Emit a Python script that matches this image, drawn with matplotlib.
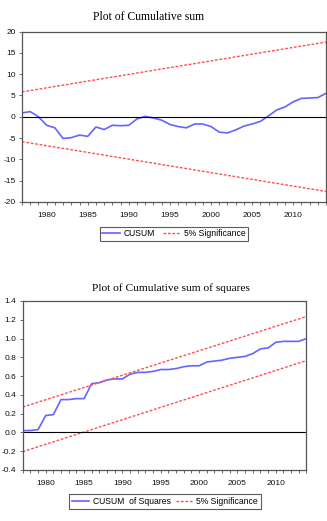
import numpy as np
import matplotlib.pyplot as plt

plt.rcParams['font.family'] = ['Liberation Sans', 'DejaVu Sans']

years = np.arange(1977, 2015)

cusum = [0.9, 1.2, 0.0, -2.0, -2.6, -5.1, -4.9, -4.3, -4.6, -2.4,
         -3.0, -2.0, -2.1, -2.0, -0.5, 0.1, -0.3, -0.8, -1.8, -2.3,
         -2.6, -1.7, -1.7, -2.3, -3.6, -3.8, -3.1, -2.2, -1.7, -1.1,
         0.2, 1.6, 2.3, 3.5, 4.3, 4.4, 4.5, 5.5]
cusum_band = [5.84, 17.53]  # upper bound at first and last year, lower = -upper

cusumsq = [0.02, 0.02, 0.03, 0.18, 0.19, 0.35, 0.35, 0.36, 0.36, 0.52,
           0.53, 0.56, 0.57, 0.57, 0.62, 0.64, 0.64, 0.65, 0.67, 0.67,
           0.68, 0.70, 0.71, 0.71, 0.75, 0.76, 0.77, 0.79, 0.80, 0.81,
           0.84, 0.89, 0.90, 0.96, 0.97, 0.97, 0.97, 1.00]
sq_upper = [0.27, 1.235]
sq_lower = [-0.205, 0.765]

blue = '#6464ff'
red = '#ff5050'
spine = '#555555'

fig = plt.figure(figsize=(3.27, 5.21), dpi=100)


def style(ax, yticks, ylim):
    ax.set_xlim(1977, 2014)
    ax.set_ylim(*ylim)
    ax.set_yticks(yticks)
    ax.set_xticks(np.arange(1980, 2014, 5))
    ax.set_xticks(years, minor=True)
    ax.tick_params(axis='both', which='major', labelsize=6, length=2.5,
                   width=0.6, color=spine, pad=2, labelcolor='#111111')
    ax.tick_params(axis='x', which='minor', length=2, width=0.6, color=spine)
    ax.tick_params(axis='x', pad=5)
    for s in ax.spines.values():
        s.set_color(spine)
        s.set_linewidth(0.9)
    ax.axhline(0, color='black', lw=0.8)


def legend(ax, x, y, spacing):
    leg = fig.legend(*ax.get_legend_handles_labels(), loc='center',
                     bbox_to_anchor=(x / 327, 1 - y / 521), ncol=2,
                     fontsize=6.2, frameon=True, fancybox=False,
                     edgecolor='#333333', handlelength=2.0,
                     columnspacing=spacing, borderpad=0.3,
                     handletextpad=0.4)
    leg.get_frame().set_linewidth(0.8)


# cumulative sum
ax1 = fig.add_axes([0.0673, 0.6123, 0.9297, 0.3272])
ax1.plot(years, cusum, color=blue, lw=1.2, label='CUSUM')
ax1.plot([years[0], years[-1]], cusum_band, color=red, lw=1.0,
         ls=(0, (2, 1.2)), label='5% Significance')
ax1.plot([years[0], years[-1]], [-v for v in cusum_band], color=red, lw=1.0,
         ls=(0, (2, 1.2)))
style(ax1, np.arange(-20, 21, 5), (-20, 20))
ax1.set_yticklabels([str(v) for v in np.arange(-20, 21, 5)])
fig.text(149 / 327, 1 - 16.7 / 521, 'Plot of Cumulative sum', ha='center',
         va='center', family='Liberation Serif', fontsize=8.4)
legend(ax1, 174, 234, 1.0)

# cumulative sum of squares
ax2 = fig.add_axes([0.0694, 0.0979, 0.8679, 0.3244])
ax2.plot(years, cusumsq, color=blue, lw=1.2, label='CUSUM  of Squares')
ax2.plot([years[0], years[-1]], sq_upper, color=red, lw=1.0,
         ls=(0, (2, 1.2)), label='5% Significance')
ax2.plot([years[0], years[-1]], sq_lower, color=red, lw=1.0,
         ls=(0, (2, 1.2)))
yt = np.round(np.arange(-0.4, 1.41, 0.2), 1)
style(ax2, yt, (-0.4, 1.4))
ax2.set_yticklabels(['%.1f' % v for v in yt])
fig.text(170.5 / 327, 1 - 288.3 / 521, 'Plot of Cumulative sum of squares',
         ha='center', va='center', family='Liberation Serif', fontsize=8.2)
legend(ax2, 165, 501.5, 0.6)

fig.savefig('out.png', dpi=100)
